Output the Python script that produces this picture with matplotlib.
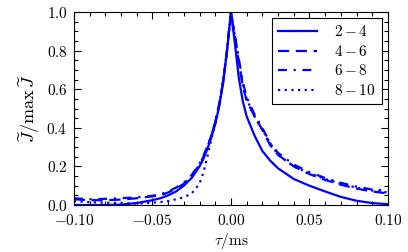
import matplotlib
matplotlib.use("Agg")
import matplotlib.pyplot as plt
from matplotlib.ticker import MultipleLocator, FuncFormatter
import numpy as np

plt.rcParams['mathtext.fontset'] = 'cm'
plt.rcParams['font.family'] = 'DejaVu Serif'
plt.rcParams['font.size'] = 11

# tau grid (ms)
tau_left = [-0.10, -0.09, -0.08, -0.07, -0.06, -0.05, -0.045, -0.04, -0.035, -0.03,
            -0.025, -0.02, -0.0175, -0.015, -0.0125, -0.01, -0.0075, -0.005, -0.0025]
tau_right = [0.0, 0.0025, 0.005, 0.0075, 0.01, 0.015, 0.02, 0.025, 0.03, 0.04,
             0.05, 0.06, 0.07, 0.08, 0.09, 0.10]

# series values (normalized)
s24_left = [0.0, 0.0, 0.0, 0.002, 0.01, 0.025, 0.035, 0.05, 0.07, 0.10,
            0.14, 0.20, 0.24, 0.29, 0.35, 0.42, 0.51, 0.63, 0.80]
s24_right = [1.0, 0.84, 0.66, 0.54, 0.46, 0.36, 0.28, 0.23, 0.19, 0.135,
             0.10, 0.07, 0.042, 0.022, 0.01, 0.004]

s46_left = [0.03, 0.025, 0.025, 0.028, 0.035, 0.045, 0.05, 0.065, 0.085, 0.11,
            0.15, 0.21, 0.25, 0.30, 0.36, 0.43, 0.52, 0.64, 0.80]
s46_right = [1.0, 0.87, 0.74, 0.62, 0.54, 0.46, 0.39, 0.31, 0.26, 0.20,
             0.16, 0.13, 0.105, 0.085, 0.07, 0.06]

s68_left = [0.035, 0.03, 0.032, 0.035, 0.04, 0.048, 0.055, 0.07, 0.09, 0.115,
            0.155, 0.215, 0.255, 0.305, 0.36, 0.43, 0.52, 0.64, 0.80]
s68_right = [1.0, 0.88, 0.76, 0.64, 0.56, 0.47, 0.40, 0.32, 0.27, 0.21,
             0.17, 0.14, 0.115, 0.095, 0.08, 0.075]

s810_left = [0.02, 0.015, 0.012, 0.01, 0.008, 0.012, 0.015, 0.02, 0.03, 0.04,
             0.06, 0.11, 0.17, 0.25, 0.34, 0.42, 0.52, 0.64, 0.80]
s810_right = [1.0, 0.88, 0.75, 0.63, 0.55, 0.46, 0.39, 0.32, 0.26, 0.20,
              0.165, 0.135, 0.11, 0.09, 0.075, 0.065]

labels = [r'$2-4$', r'$4-6$', r'$6-8$', r'$8-10$']
x_ticks = [-0.10, -0.05, 0.0, 0.05, 0.10]
y_ticks = [0.0, 0.2, 0.4, 0.6, 0.8, 1.0]

fig = plt.figure(figsize=(4.08, 2.52), dpi=100)
ax = fig.add_axes([0.181, 0.1865, 0.770, 0.7655])

tau = tau_left + tau_right
series = [s24_left + s24_right, s46_left + s46_right,
          s68_left + s68_right, s810_left + s810_right]
styles = ['-', (0, (5, 3)), (0, (4, 3, 1, 3)), (0, (1, 2))]
for vals, ls, lab in zip(series, styles, labels):
    ax.plot(tau, vals, color='#0000ff', lw=1.6, linestyle=ls, label=lab)

ax.set_xlim(-0.10, 0.10)
ax.set_ylim(0.0, 1.0)
ax.set_xticks(x_ticks)
ax.set_yticks(y_ticks)
ax.xaxis.set_minor_locator(MultipleLocator(0.01))
ax.yaxis.set_minor_locator(MultipleLocator(0.05))
ax.xaxis.set_major_formatter(FuncFormatter(lambda v, p: r'$%.2f$' % v if abs(v) > 1e-9 else r'$0.00$'))
ax.yaxis.set_major_formatter(FuncFormatter(lambda v, p: r'$%.1f$' % v))
ax.tick_params(which='both', direction='in', top=True, right=True, width=0.8)
ax.tick_params(which='major', length=5)
ax.tick_params(which='minor', length=3)
ax.tick_params(axis='both', labelsize=11)
ax.tick_params(axis='x', pad=6)
ax.tick_params(axis='y', pad=4.5)
for s in ax.spines.values():
    s.set_linewidth(0.8)

ax.set_xlabel(r'$\tau/\mathrm{ms}$', fontsize=11, labelpad=2)
ax.set_ylabel(r'$\widetilde{J}/\max\,\widetilde{J}$', fontsize=13)
ax.yaxis.set_label_coords(-0.102, 0.5)

leg = ax.legend(loc='upper right', handlelength=2.6, handletextpad=1.1,
                fancybox=False, framealpha=1, edgecolor='black', fontsize=11,
                borderaxespad=0.4, labelspacing=0.3)
leg.get_frame().set_linewidth(0.8)

fig.savefig('out.png', dpi=100)
